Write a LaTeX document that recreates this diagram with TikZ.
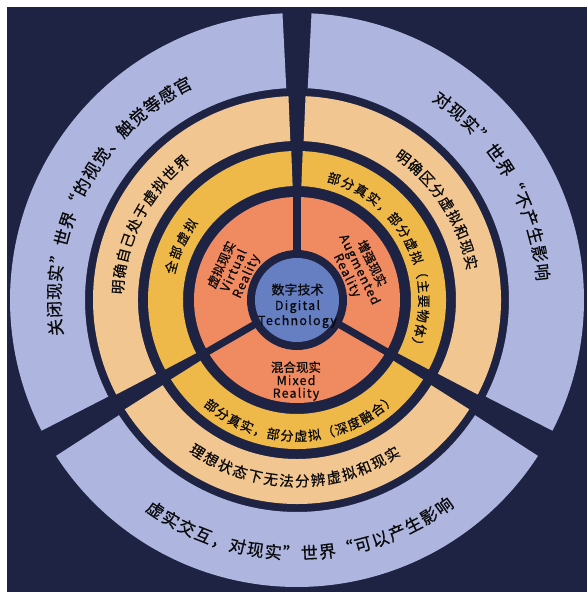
\documentclass[tikz,border=0pt]{standalone}
\usepackage{fontspec}
\setmainfont{Noto Sans CJK SC}[FakeBold=0.6]
\newfontfamily\latsp{Noto Sans CJK SC}[LetterSpace=9,FakeBold=0.6]
\newfontfamily\latspc{Noto Sans CJK SC}[LetterSpace=10,FakeBold=0.6]
\definecolor{navy}{RGB}{30,35,68}
\definecolor{lb}{RGB}{174,182,224}
\definecolor{peach}{RGB}{242,198,144}
\definecolor{yel}{RGB}{239,185,74}
\definecolor{ora}{RGB}{240,138,96}
\definecolor{cblue}{RGB}{102,126,194}
\definecolor{ink}{RGB}{10,10,12}
\newcommand\annsec[5]{\fill[#5] ({#3}:#2) arc[start angle={#3},end angle={#4},radius=#2] -- ({#4}:#1) arc[start angle={#4},end angle={#3},radius=#1] -- cycle;}
\newcommand\cb[1]{\rule[-0.12em]{0pt}{1em}#1}
\newcommand\toptext[6]{%
  \foreach \ch [count=\i from 0] in {#6} {
    \pgfmathsetmacro\ang{#3-\i*#4}
    \node[chr, font=\fontsize{#5}{#5}\selectfont, rotate=\ang-90] (#1\i) at (\ang:#2) {\cb{\ch}};
  }}
\newcommand\bottext[6]{%
  \foreach \ch [count=\i from 0] in {#6} {
    \pgfmathsetmacro\ang{#3+\i*#4}
    \node[chr, font=\fontsize{#5}{#5}\selectfont, rotate=\ang+90] (#1\i) at (\ang:#2) {\cb{\ch}};
  }}
\tikzset{
  chr/.style={inner sep=0pt, outer sep=0pt, text=ink, anchor=center},
  lbl/.style={inner sep=0pt, outer sep=0pt, text=ink, anchor=base},
}
\begin{document}
\begin{tikzpicture}[x=1pt,y=1pt]
\useasboundingbox (-297,-292) rectangle (290,300);
\fill[white] (-297,-292) rectangle (290,300);
\fill[navy] (-290,-292) rectangle (290,293);
% rings as sectors
\foreach \s in {-30,90,210} {
  \annsec{212}{287}{\s+2.9}{\s+117.1}{lb}
  \annsec{159}{204}{\s+2.4}{\s+117.6}{peach}
  \annsec{114}{149}{\s+2.2}{\s+117.8}{yel}
}
\fill[ora] (0,0) circle (103);
\foreach \s in {-30,90,210} {
  \fill[navy, rotate=\s] (0,-3.6) rectangle (109,3.6);
}
\fill[navy] (0,0) circle (50);
\fill[cblue] (0,0) circle (42);
% centre
\node[lbl, font=\fontsize{13}{13}\selectfont] (c1) at (0.5,5.5) {数字技术};
\node[lbl, font=\fontsize{12.5}{12.5}\selectfont\latspc] (c2) at (0.5,-10) {Digital};
\node[lbl, font=\fontsize{12.5}{12.5}\selectfont\latspc] (c3) at (0.5,-25) {Technology};
% VR
\begin{scope}[shift={(155:70)}, rotate=65, transform shape]
  \node[lbl, font=\fontsize{12.5}{12.5}\selectfont] (vr1) at (0,9) {虚拟现实};
  \node[lbl, font=\fontsize{12.5}{12.5}\selectfont\latsp] (vr2) at (0,-4.5) {Virtual};
  \node[lbl, font=\fontsize{12.5}{12.5}\selectfont\latsp] (vr3) at (0,-18) {Reality};
\end{scope}
% AR
\begin{scope}[shift={(26:70)}, rotate=-64, transform shape]
  \node[lbl, font=\fontsize{12.5}{12.5}\selectfont] (ar1) at (0,9) {增强现实};
  \node[lbl, font=\fontsize{12.5}{12.5}\selectfont\latsp] (ar2) at (0,-4.5) {Augmented};
  \node[lbl, font=\fontsize{12.5}{12.5}\selectfont\latsp] (ar3) at (0,-18) {Reality};
\end{scope}
% MR
\node[lbl, font=\fontsize{12.5}{12.5}\selectfont] (mr1) at (-1,-72) {混合现实};
\node[lbl, font=\fontsize{12.5}{12.5}\selectfont\latsp] (mr2) at (-1,-85) {Mixed};
\node[lbl, font=\fontsize{12.5}{12.5}\selectfont\latsp] (mr3) at (-1,-97.7) {Reality};
% yellow ring
\toptext{yl}{130}{165.4}{6.8}{13}{全,部,虚,拟}
\toptext{yr}{127}{73}{6.69}{13}{部,分,真,实,，,部,分,虚,拟,（,主,要,物,体,）}
\bottext{yb}{136}{231}{5.8}{13}{部,分,真,实,，,部,分,虚,拟,（,深,度,融,合,）}
% peach ring
\toptext{pl}{179.5}{175.8}{5.1}{14.5}{明,确,自,己,处,于,虚,拟,世,界}
\toptext{pr}{178}{53.3}{5.13}{14.5}{明,确,区,分,虚,拟,和,现,实}
\bottext{pb}{181}{236.7}{5.0}{14.5}{理,想,状,态,下,无,法,分,辨,虚,拟,和,现,实}
% light blue ring
\toptext{ll}{243}{186.5}{4.28}{17}{关,闭,现,实,”,世,界,“,的,视,觉,、,触,觉,等,感,官}
\toptext{lr}{247}{54}{4.32}{17}{对,现,实,”,世,界,“,不,产,生,影,响}
\bottext{lbt}{253}{236}{4.09}{17}{虚,实,交,互,，,对,现,实,”,世,界,“,可,以,产,生,影,响}
\end{tikzpicture}
\end{document}
